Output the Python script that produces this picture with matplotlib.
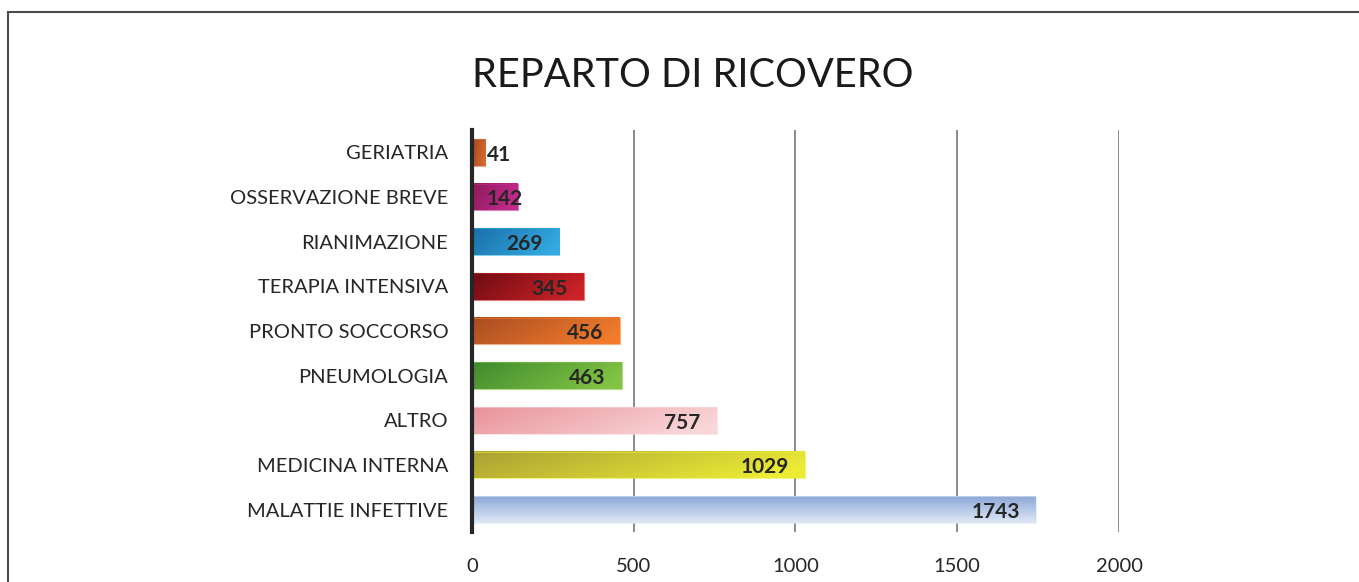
import numpy as np
import matplotlib.pyplot as plt
from matplotlib.colors import LinearSegmentedColormap
from matplotlib.patches import Rectangle

# data, top to bottom as in the chart
reparti = ["GERIATRIA", "OSSERVAZIONE BREVE", "RIANIMAZIONE", "TERAPIA INTENSIVA",
           "PRONTO SOCCORSO", "PNEUMOLOGIA", "ALTRO", "MEDICINA INTERNA",
           "MALATTIE INFETTIVE"]
ricoveri = [41, 142, 269, 345, 456, 463, 757, 1029, 1743]
# gradient colours (left/dark -> right/light)
col_start = ["#a3451c", "#8c1a5c", "#1a6fa8", "#6e0c12", "#a84c22",
             "#3f8a2e", "#e8939a", "#a9a035", "#8ca8d8"]
col_end = ["#d86c32", "#c42c8c", "#34aae2", "#cc2228", "#f27c2c",
           "#82c444", "#f9d6d8", "#ecec34", "#dfe8f5"]
x_ticks = [0, 500, 1000, 1500, 2000]

plt.rcParams['font.family'] = ['Lato', 'DejaVu Sans']

fig = plt.figure(figsize=(13.59, 5.82), dpi=100)
ax = fig.add_axes([0.3473, 0.0859, 0.4761, 0.6907])

n = len(reparti)
ypos = np.arange(n)
h = 0.6

for i, (v, c0, c1) in enumerate(zip(ricoveri, col_start, col_end)):
    cmap = LinearSegmentedColormap.from_list("g%d" % i, [c0, c1])
    if i == n - 1:
        # vertical gradient, darker on top
        grad = np.linspace(0, 1, 64).reshape(-1, 1)
    else:
        gx = np.linspace(0, 1, 128)
        gy = np.linspace(0, 0.25, 32).reshape(-1, 1)
        grad = np.clip(gx * 0.85 + gy, 0, 1)
    ax.imshow(grad, cmap=cmap, aspect='auto', interpolation='bilinear',
              extent=(0, v, i + h / 2, i - h / 2), zorder=2, vmin=0, vmax=1)
    ax.add_patch(Rectangle((0, i - h / 2), v, h, fill=False,
                           edgecolor=c1, linewidth=0.8, alpha=0.6, zorder=3))
    if v < 200:
        ax.text(46, i + 0.05, str(v), ha='left', va='center', fontsize=15,
                fontweight='bold', color='#262626', zorder=4)
    else:
        ax.text(v - 50, i + 0.05, str(v), ha='right', va='center', fontsize=15,
                fontweight='bold', color='#262626', zorder=4)

ax.set_xlim(0, 2000)
ax.set_ylim(n - 0.5, -0.5)
ax.set_yticks(ypos)
ax.set_yticklabels(reparti)
ax.set_xticks(x_ticks)
ax.tick_params(axis='both', length=0, labelsize=14.5, colors='#262626')
ax.tick_params(axis='y', pad=17)
ax.tick_params(axis='x', pad=19)

for t in x_ticks[1:]:
    ax.axvline(t, color='#8a8a8a', linewidth=1.4, zorder=1)

for s in ['top', 'right', 'bottom']:
    ax.spines[s].set_visible(False)
ax.spines['left'].set_linewidth(3)
ax.spines['left'].set_color('#262626')
ax.spines['left'].set_zorder(5)

fig.text(0.51, 0.87, "REPARTO DI RICOVERO", ha='center', va='center',
         fontsize=28.6, color='#1a1a1a')

# outer frame
fig.patches.append(Rectangle((8 / 1359, -0.1), 1.2, 1 - 12 / 582 + 0.1,
                             transform=fig.transFigure, fill=False,
                             edgecolor='#4a4a4a', linewidth=1.5))

fig.savefig("out.png", dpi=100)
